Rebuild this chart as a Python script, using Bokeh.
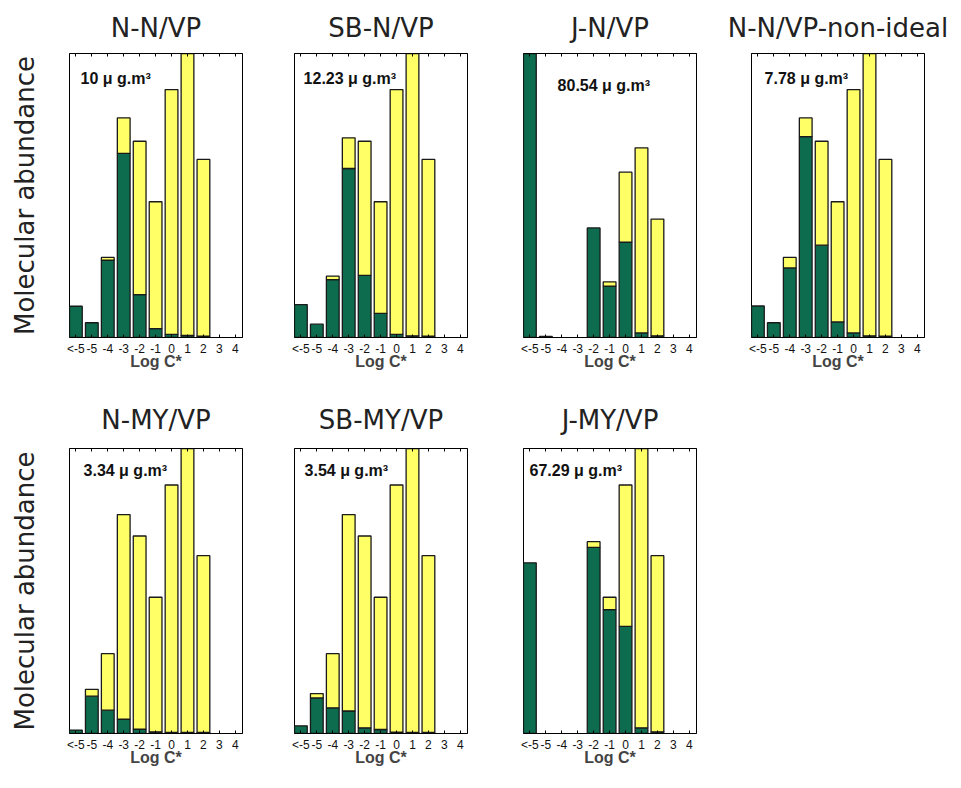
from bokeh.plotting import figure
from bokeh.layouts import column, row
from bokeh.models import (LinearAxis, FixedTicker, Label, Range1d, ColumnDataSource,
                          CustomLabelingPolicy)
from bokeh.embed import file_html
from bokeh.resources import INLINE

# ---------------- data ----------------
bins = ["<-5", "-5", "-4", "-3", "-2", "-1", "0", "1", "2", "3", "4"]

titles = ["N-N/VP", "SB-N/VP", "J-N/VP", "N-N/VP-non-ideal",
          "N-MY/VP", "SB-MY/VP", "J-MY/VP"]
masses = ["10 μ g.m³", "12.23 μ g.m³", "80.54 μ g.m³", "7.78 μ g.m³",
          "3.34 μ g.m³", "3.54 μ g.m³", "67.29 μ g.m³"]

# condensed (particle) fraction per volatility bin (green)
particle_nn = [0.110, 0.052, 0.272, 0.648, 0.151, 0.031, 0.011, 0.007, 0.005, 0, 0]
particle_sbn = [0.116, 0.047, 0.204, 0.595, 0.219, 0.085, 0.011, 0.006, 0.005, 0, 0]
particle_jn = [1.100, 0.004, 0, 0, 0.386, 0.181, 0.336, 0.016, 0.006, 0, 0]
particle_nni = [0.111, 0.052, 0.245, 0.707, 0.325, 0.055, 0.016, 0.006, 0.005, 0, 0]
particle_nmy = [0.012, 0.131, 0.082, 0.050, 0.015, 0.006, 0.004, 0.004, 0.004, 0, 0]
particle_sbmy = [0.027, 0.125, 0.090, 0.079, 0.020, 0.014, 0.005, 0.004, 0.004, 0, 0]
particle_jmy = [0.599, 0, 0, 0, 0.653, 0.435, 0.376, 0.020, 0.006, 0, 0]

# gas-phase fraction per volatility bin (yellow), stacked above the green
gas_nn = [0, 0, 0.010, 0.125, 0.540, 0.447, 0.862, 1.093, 0.622, 0, 0]
gas_sbn = [0, 0, 0.012, 0.108, 0.472, 0.393, 0.862, 1.094, 0.622, 0, 0]
gas_jn = [0, 0, 0, 0, 0, 0.015, 0.246, 0.652, 0.411, 0, 0]
gas_nni = [0, 0, 0.037, 0.066, 0.366, 0.423, 0.857, 1.094, 0.622, 0, 0]
gas_nmy = [0, 0.024, 0.198, 0.718, 0.678, 0.472, 0.868, 1.096, 0.620, 0, 0]
gas_sbmy = [0, 0.015, 0.190, 0.689, 0.673, 0.464, 0.867, 1.096, 0.620, 0, 0]
gas_jmy = [0, 0, 0, 0, 0.020, 0.043, 0.496, 1.080, 0.618, 0, 0]

particles = [particle_nn, particle_sbn, particle_jn, particle_nni,
             particle_nmy, particle_sbmy, particle_jmy]
gases = [gas_nn, gas_sbn, gas_jn, gas_nni, gas_nmy, gas_sbmy, gas_jmy]

# ---------------- style ----------------
GREEN = "#0d6b4e"
YELLOW = "#ffff66"
EDGE = "#1a1a1a"

label_pos = [(0.29, 0.912), (0.17, 0.912), (1.74, 0.887), (0.42, 0.912),
             (0.48, 0.923), (0.23, 0.923), (-0.02, 0.923)]

row_cfg = [dict(min_border_top=53, min_border_bottom=53, frame_height=284),
           dict(min_border_top=58, min_border_bottom=44, frame_height=285)]
title_standoff = [14, 19]
col_cfg = [(69, 25), (27, 28), (28, 27), (28, 28)]

HIDE_ALL = CustomLabelingPolicy(code="""
    for (const i of indices) {
        indices.unset(i)
    }
    return indices
""")


def make_panel(i):
    r = 0 if i < 4 else 1
    c = i if i < 4 else i - 4
    left, right = col_cfg[c]
    p = figure(frame_width=173, x_range=Range1d(-0.4, 10.45), y_range=Range1d(0, 1),
               output_backend="svg", toolbar_location=None,
               min_border_left=left, min_border_right=right,
               title=titles[i], **row_cfg[r])
    p.title.text_font = "DejaVu Sans"
    p.title.text_font_size = "26px"
    p.title.text_font_style = "normal"
    p.title.align = "center"
    p.title.text_color = "#222222"
    p.title.standoff = title_standoff[r]

    part = particles[i]
    gas = gases[i]
    xs = list(range(len(bins)))
    g_src = ColumnDataSource(dict(x=[x for x in xs if part[x] > 0],
                                  top=[part[x] for x in xs if part[x] > 0]))
    y_src = ColumnDataSource(dict(x=[x for x in xs if gas[x] > 0],
                                  bottom=[part[x] for x in xs if gas[x] > 0],
                                  top=[part[x] + gas[x] for x in xs if gas[x] > 0]))
    p.vbar(x="x", bottom=0, top="top", width=0.8, source=g_src,
           fill_color=GREEN, line_color=EDGE, line_width=1.3)
    p.vbar(x="x", bottom="bottom", top="top", width=0.8, source=y_src,
           fill_color=YELLOW, line_color=EDGE, line_width=1.3)

    lx, ly = label_pos[i]
    p.add_layout(Label(x=lx, y=ly, text=masses[i], text_font="Liberation Sans",
                       text_font_size="16px", text_font_style="bold",
                       text_baseline="middle", text_color="#111111"))

    p.xgrid.visible = False
    p.ygrid.visible = False
    p.outline_line_color = "black"
    p.outline_line_width = 1
    p.background_fill_color = "white"
    p.border_fill_color = "white"

    ax = p.xaxis[0]
    ax.ticker = FixedTicker(ticks=xs)
    ax.major_label_overrides = {k: bins[k] for k in xs}
    ax.major_tick_in = 3
    ax.major_tick_out = 0
    ax.minor_tick_line_color = None
    ax.major_label_text_font = "Liberation Sans"
    ax.major_label_text_font_size = "12px"
    ax.major_label_text_color = "#111111"
    ax.major_label_standoff = 4
    ax.axis_label = "Log C*"
    ax.axis_label_text_font = "Liberation Sans"
    ax.axis_label_text_font_size = "16px"
    ax.axis_label_text_font_style = "bold"
    ax.axis_label_standoff = -6
    ax.axis_line_color = "black"

    top = LinearAxis(ticker=FixedTicker(ticks=xs), major_label_policy=HIDE_ALL,
                     major_label_text_font_size="1px", axis_label_standoff=0,
                     major_tick_in=3, major_tick_out=0, minor_tick_line_color=None,
                     major_label_standoff=0, axis_line_color="black")
    p.add_layout(top, "above")

    if c == 0:
        ya = p.yaxis[0]
        ya.ticker = FixedTicker(ticks=[])
        ya.axis_label = "Molecular abundance"
        ya.axis_label_text_font = "DejaVu Sans"
        ya.axis_label_text_font_size = "26px"
        ya.axis_label_text_font_style = "normal"
        ya.axis_label_text_color = "#222222"
        ya.major_tick_line_color = None
        ya.minor_tick_line_color = None
        ya.major_label_standoff = 0
        ya.axis_line_color = None
        ya.axis_label_standoff = 30
    else:
        p.yaxis.visible = False
    return p


panels = [make_panel(i) for i in range(7)]
layout = column(row(*panels[:4]), row(*panels[4:]))

open("out.html", "w").write(file_html(layout, INLINE))
